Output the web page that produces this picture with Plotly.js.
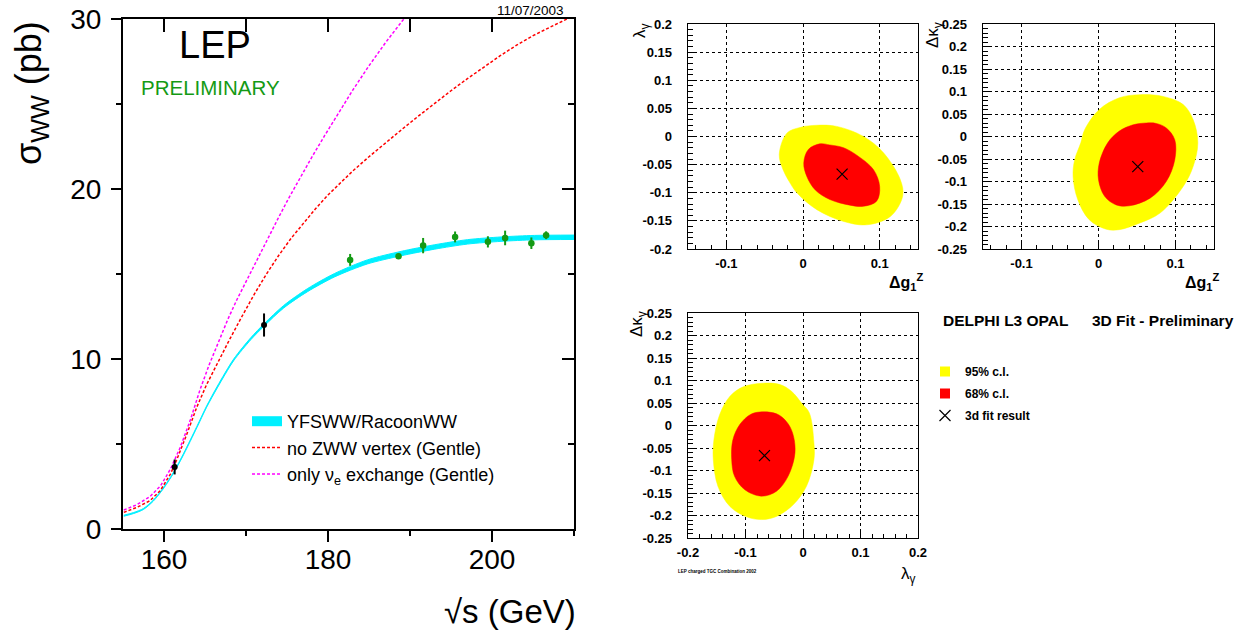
<!DOCTYPE html>
<html><head><meta charset="utf-8">
<script src="https://cdn.plot.ly/plotly-3.0.1.min.js"></script>
<style>html,body{margin:0;padding:0;background:#fff;}#chart{width:1248px;height:634px;}</style>
</head><body><div id="chart"></div>
<script>
// ---------------- data: LEP W-pair cross section ----------------
const energyYfs = [155.1,156.3,157.5,158.7,160.0,161.2,162.4,164.0,165.2,166.5,168.5,170.6,172.2,174.6,177.5,180.8,184.8,188.9,193.0,197.0,201.1,205.2,210.0];
const sigmaYfsLow  = [0.75,0.91,1.15,1.64,2.42,3.31,4.38,5.95,7.16,8.30,9.90,11.14,11.93,13.00,13.96,14.83,15.59,16.07,16.46,16.76,16.92,17.01,17.03];
const sigmaYfsHigh = [0.81,0.97,1.21,1.70,2.48,3.37,4.46,6.03,7.24,8.40,10.00,11.26,12.07,13.15,14.14,15.03,15.83,16.33,16.72,17.02,17.18,17.27,17.29];

const energyNoZww = [155.1,156.7,158.3,159.55,160.8,161.6,162.8,164.0,165.2,166.5,168.0,169.5,171.0,172.5,174.0,175.5,177.0,178.5,180.0,181.5,183.0,185.0,187.0,189.0,191.0,193.0,195.0,197.0,199.0,201.0,203.0,205.0,207.0,209.0,210.0];
const sigmaNoZww  = [0.98,1.27,1.67,2.26,3.24,4.13,5.6,7.17,8.5,9.75,11.15,12.5,13.8,15.0,16.1,17.1,18.0,18.85,19.65,20.38,21.05,21.9,22.72,23.5,24.28,25.04,25.78,26.49,27.18,27.84,28.46,29.02,29.5,29.95,30.2];

const energyNue = [155.1,156.7,158.3,159.6,160.8,162.0,163.2,164.4,165.5,166.7,167.8,168.9,170.3,171.5,172.8,174.0,175.2,176.4,178.0,179.6,181.0,183.0,185.0,187.0,189.0,191.0];
const sigmaNue  = [1.12,1.43,1.91,2.55,3.54,4.82,6.39,8.2,9.65,11.1,12.35,13.5,14.85,16.0,17.22,18.35,19.45,20.5,21.85,23.15,24.25,25.8,27.25,28.6,29.85,31.0];

const energyEarly = [161.3, 172.2];
const sigmaEarly  = [3.65, 12.0];
const errEarly    = [0.44, 0.68];

const energyLep2 = [182.7, 188.6, 191.6, 195.5, 199.5, 201.6, 204.8, 206.6];
const sigmaLep2  = [15.83, 16.05, 16.67, 17.18, 16.89, 17.12, 16.81, 17.28];
const errLep2    = [0.35, 0.17, 0.45, 0.32, 0.33, 0.43, 0.34, 0.23];

const sqrtsTicks = [160, 180, 200];
const sigmaTicks = [0, 10, 20, 30];

// ---------------- data: TGC 3D fit contours ----------------
const fitG1z = [0.051];
const fitLambda = [-0.067];
const fitKappa = [-0.067];

// panel 1: dg1Z (x) vs lambda_gamma (y)
const g1zLam95X = [0.018,-0.004,-0.021,-0.031,-0.026,-0.018,-0.008,0.018,0.053,0.083,0.114,0.130,0.127,0.105,0.079,0.044,0.018];
const g1zLam95Y = [0.020,0.016,0.006,-0.032,-0.059,-0.080,-0.100,-0.130,-0.151,-0.157,-0.142,-0.106,-0.077,-0.029,0.000,0.018,0.020];
const g1zLam68X = [0.022,0.035,0.053,0.072,0.092,0.100,0.096,0.079,0.061,0.035,0.016,0.005,0.001,0.007,0.022];
const g1zLam68Y = [-0.013,-0.015,-0.020,-0.035,-0.059,-0.089,-0.115,-0.124,-0.122,-0.112,-0.095,-0.071,-0.047,-0.023,-0.013];

// panel 2: dg1Z (x) vs dkappa_gamma (y)
const g1zKap95X = [0.054,0.027,0.001,-0.018,-0.023,-0.031,-0.033,-0.027,-0.012,0.010,0.027,0.054,0.080,0.110,0.123,0.129,0.123,0.110,0.084,0.054];
const g1zKap95Y = [0.093,0.086,0.060,0.015,-0.014,-0.052,-0.089,-0.140,-0.185,-0.206,-0.207,-0.192,-0.170,-0.111,-0.066,-0.014,0.037,0.071,0.089,0.093];
const g1zKap68X = [0.062,0.045,0.027,0.012,0.001,0.000,0.008,0.023,0.040,0.067,0.088,0.099,0.099,0.088,0.075,0.062];
const g1zKap68Y = [0.030,0.026,0.012,-0.014,-0.059,-0.096,-0.133,-0.152,-0.154,-0.137,-0.100,-0.052,-0.007,0.019,0.029,0.030];

// panel 3: lambda_gamma (x) vs dkappa_gamma (y)
const lamKap95X = [-0.069,-0.104,-0.127,-0.145,-0.155,-0.156,-0.148,-0.127,-0.098,-0.072,-0.046,-0.017,0.006,0.019,0.019,0.011,-0.002,-0.020,-0.040,-0.069];
const lamKap95Y = [0.094,0.086,0.065,0.024,-0.032,-0.076,-0.135,-0.180,-0.203,-0.209,-0.202,-0.176,-0.135,-0.076,-0.039,0.028,0.049,0.076,0.091,0.094];
const lamKap68X = [-0.075,-0.092,-0.110,-0.122,-0.124,-0.119,-0.101,-0.072,-0.046,-0.026,-0.014,-0.018,-0.029,-0.046,-0.075];
const lamKap68Y = [0.030,0.024,0.002,-0.032,-0.076,-0.113,-0.143,-0.157,-0.146,-0.113,-0.061,-0.017,0.009,0.026,0.030];

const g1zTicks = [-0.1, 0, 0.1];
const g1zTickText = ['-0.1', '0', '0.1'];
const lamTicksY = [-0.2,-0.15,-0.1,-0.05,0,0.05,0.1,0.15,0.2];
const lamTickTextY = ['-0.2','-0.15','-0.1','-0.05','0','0.05','0.1','0.15','0.2'];
const kapTicks = [-0.25,-0.2,-0.15,-0.1,-0.05,0,0.05,0.1,0.15,0.2,0.25];
const kapTickText = ['-0.25','-0.2','-0.15','-0.1','-0.05','0','0.05','0.1','0.15','0.2','0.25'];
const lamTicksX = [-0.2,-0.1,0,0.1,0.2];
const lamTickTextX = ['-0.2','-0.1','0','0.1','0.2'];

// ---------------- styling helpers ----------------
const FONT = 'Liberation Sans, Arial, Helvetica, sans-serif';
const W = 1248, H = 634;
const px = v => v / W;
const py = v => (H - v) / H;
const CYAN = '#00f0ff', RED = '#ff0000', MAG = '#ff00ff', GREEN = '#149a14', YEL = '#ffff00';

const traces = [];
// legend proxy for the cyan band
traces.push({x:[null], y:[null], mode:'lines', line:{color:CYAN, width:14}, name:'YFSWW/RacoonWW', legend:'legend', hoverinfo:'skip'});
traces.push({x:energyYfs, y:sigmaYfsLow, mode:'lines', line:{color:CYAN, width:1, shape:'spline', smoothing:0.8}, showlegend:false, hoverinfo:'skip'});
traces.push({x:energyYfs, y:sigmaYfsHigh, mode:'lines', line:{color:CYAN, width:1, shape:'spline', smoothing:0.8}, fill:'tonexty', fillcolor:CYAN, showlegend:false, hoverinfo:'skip'});
traces.push({x:energyNoZww, y:sigmaNoZww, mode:'lines', line:{color:RED, width:1.5, dash:'3px,2px'}, name:'no ZWW vertex (Gentle)', legend:'legend'});
traces.push({x:energyNue, y:sigmaNue, mode:'lines', line:{color:MAG, width:1.5, dash:'3px,2px'}, name:'only ν<sub>e</sub> exchange (Gentle)', legend:'legend'});
traces.push({x:energyEarly, y:sigmaEarly, mode:'markers', marker:{color:'black', size:6},
  error_y:{type:'data', array:errEarly, color:'black', thickness:2, width:0}, showlegend:false});
traces.push({x:energyLep2, y:sigmaLep2, mode:'markers', marker:{color:GREEN, size:6.5},
  error_y:{type:'data', array:errLep2, color:GREEN, thickness:2, width:0}, showlegend:false});
// carrier for the mirrored tick axes of the left frame
traces.push({x:[], y:[], xaxis:'x5', yaxis:'y5', mode:'markers', showlegend:false, hoverinfo:'skip'});

// contour panels
function contour(ax, ay, x95, y95, x68, y68, fx, fy, legendFit) {
  traces.push({x:x95, y:y95, xaxis:ax, yaxis:ay, mode:'lines', fill:'toself', fillcolor:YEL,
    line:{color:YEL, width:0.5, shape:'spline', smoothing:1}, showlegend:false, hoverinfo:'skip'});
  traces.push({x:x68, y:y68, xaxis:ax, yaxis:ay, mode:'lines', fill:'toself', fillcolor:RED,
    line:{color:RED, width:0.5, shape:'spline', smoothing:1}, showlegend:false, hoverinfo:'skip'});
  traces.push({x:fx, y:fy, xaxis:ax, yaxis:ay, mode:'markers',
    marker:{symbol:'x-thin-open', size:11, color:'black', line:{color:'black', width:1.2}},
    name:'<b>3d fit result</b>', legend:'legend2', legendgroup:'g3', showlegend:legendFit});
}
traces.push({x:[null], y:[null], xaxis:'x2', yaxis:'y2', mode:'markers', marker:{symbol:'square', size:10, color:YEL},
  name:'<b>95% c.l.</b>', legend:'legend2', legendgroup:'g1', hoverinfo:'skip'});
traces.push({x:[null], y:[null], xaxis:'x2', yaxis:'y2', mode:'markers', marker:{symbol:'square', size:10, color:RED},
  name:'<b>68% c.l.</b>', legend:'legend2', legendgroup:'g2', hoverinfo:'skip'});
contour('x2','y2', g1zLam95X, g1zLam95Y, g1zLam68X, g1zLam68Y, fitG1z, fitLambda, true);
contour('x3','y3', g1zKap95X, g1zKap95Y, g1zKap68X, g1zKap68Y, fitG1z, fitKappa, false);
contour('x4','y4', lamKap95X, lamKap95Y, lamKap68X, lamKap68Y, fitLambda, fitKappa, false);

// ---------------- layout ----------------
const leftX = [px(123), px(574)];
const leftY = [py(529), py(19)];
const p1X = [px(688), px(918)], p2X = [px(983), px(1214)];
const topY = [py(249), py(24)], botY = [py(538), py(313)];

function panelAxis(domain, anchor, range, tickvals, ticktext, minorDtick, isY) {
  return {
    domain, anchor, range, tickmode:'array', tickvals, ticktext,
    showline:true, linecolor:'black', linewidth:1.3, mirror:true,
    ticks:'inside', ticklen:9, tickwidth:1, tickcolor:'black',
    minor:{ticks:'inside', ticklen:4.5, tickwidth:1, tickcolor:'black', tickmode:'linear', tick0:0, dtick:minorDtick, showgrid:false},
    showgrid:true, gridcolor:'black', gridwidth:1, griddash:'dot', zeroline:false,
    ticklabelstandoff: isY ? 12 : 2,
    tickfont:{family:FONT, size:13, color:'black', weight:700},
  };
}

const layout = {
  width:W, height:H, margin:{l:0, r:0, t:0, b:0},
  paper_bgcolor:'white', plot_bgcolor:'rgba(0,0,0,0)',
  font:{family:FONT, color:'black'},
  showlegend:true,
  xaxis:{domain:leftX, anchor:'y', range:[155,210], tickmode:'array', tickvals:sqrtsTicks,
    ticks:'outside', ticklen:11, tickwidth:2, tickcolor:'black',
    minor:{ticks:'outside', ticklen:5, tickwidth:2, tickcolor:'black', tickmode:'linear', tick0:160, dtick:10},
    showline:true, linecolor:'black', linewidth:2, mirror:true, showgrid:false, zeroline:false,
    ticklabelstandoff:-7, tickfont:{family:FONT, size:28, color:'black'}},
  yaxis:{domain:leftY, anchor:'x', range:[0,30], tickmode:'array', tickvals:sigmaTicks,
    ticks:'outside', ticklen:10, tickwidth:2, tickcolor:'black',
    minor:{ticks:'outside', ticklen:5, tickwidth:2, tickcolor:'black', tickmode:'linear', tick0:0, dtick:5},
    showline:true, linecolor:'black', linewidth:2, mirror:true, showgrid:false, zeroline:false,
    ticklabelstandoff:4, tickfont:{family:FONT, size:28, color:'black'}},
  xaxis5:{overlaying:'x', side:'top', anchor:'y5', range:[155,210], tickmode:'linear', tick0:160, dtick:10,
    ticks:'inside', ticklen:13, tickwidth:2, tickcolor:'black', showticklabels:false, showline:false, showgrid:false, zeroline:false},
  yaxis5:{overlaying:'y', side:'right', anchor:'x5', range:[0,30], tickmode:'linear', tick0:0, dtick:10,
    ticks:'inside', ticklen:12, tickwidth:2, tickcolor:'black',
    minor:{ticks:'inside', ticklen:6, tickwidth:2, tickcolor:'black', tickmode:'linear', tick0:0, dtick:5},
    showticklabels:false, showline:false, showgrid:false, zeroline:false},
  xaxis2: panelAxis(p1X, 'y2', [-0.15,0.15], g1zTicks, g1zTickText, 0.02, false),
  yaxis2: panelAxis(topY, 'x2', [-0.2,0.2], lamTicksY, lamTickTextY, 0.01, true),
  xaxis3: panelAxis(p2X, 'y3', [-0.15,0.15], g1zTicks, g1zTickText, 0.02, false),
  yaxis3: panelAxis(topY, 'x3', [-0.25,0.25], kapTicks, kapTickText, 0.01, true),
  xaxis4: panelAxis(p1X, 'y4', [-0.2,0.2], lamTicksX, lamTickTextX, 0.02, false),
  yaxis4: panelAxis(botY, 'x4', [-0.25,0.25], kapTicks, kapTickText, 0.01, true),
  legend:{x:px(247), y:py(403), xanchor:'left', yanchor:'top', bgcolor:'rgba(0,0,0,0)', borderwidth:0,
    itemwidth:30, traceorder:'normal', font:{family:FONT, size:18, color:'black'}},
  legend2:{x:px(925), y:py(357), xanchor:'left', yanchor:'top', bgcolor:'rgba(0,0,0,0)', borderwidth:0,
    itemwidth:30, traceorder:'grouped', tracegroupgap:3, font:{family:FONT, size:12, color:'black'}},
  annotations:[
    {text:'σ<sub>WW</sub> (pb)', xref:'paper', yref:'paper', x:px(31), y:py(93), xanchor:'center', yanchor:'middle', textangle:-90, showarrow:false, font:{size:36}},
    {text:'√s (GeV)', xref:'paper', yref:'paper', x:px(578), y:py(611), xanchor:'right', yanchor:'middle', showarrow:false, font:{size:33}},
    {text:'11/07/2003', xref:'paper', yref:'paper', x:px(566), y:py(10), xanchor:'right', yanchor:'middle', showarrow:false, font:{size:13.5}},
    {text:'LEP', xref:'paper', yref:'paper', x:px(215), y:py(45), xanchor:'center', yanchor:'middle', showarrow:false, font:{size:38}},
    {text:'PRELIMINARY', xref:'paper', yref:'paper', x:px(210), y:py(87), xanchor:'center', yanchor:'middle', showarrow:false, font:{size:20.5, color:GREEN}},
    {text:'λ<sub>γ</sub>', xref:'paper', yref:'paper', x:px(641), y:py(30), xanchor:'center', yanchor:'middle', textangle:-90, showarrow:false, font:{size:17}},
    {text:'<b>Δg<sub>1</sub><sup>Z</sup></b>', xref:'paper', yref:'paper', x:px(926), y:py(282), xanchor:'right', yanchor:'middle', showarrow:false, font:{size:16}},
    {text:'Δκ<sub>γ</sub>', xref:'paper', yref:'paper', x:px(934), y:py(35), xanchor:'center', yanchor:'middle', textangle:-90, showarrow:false, font:{size:17}},
    {text:'<b>Δg<sub>1</sub><sup>Z</sup></b>', xref:'paper', yref:'paper', x:px(1222), y:py(282), xanchor:'right', yanchor:'middle', showarrow:false, font:{size:16}},
    {text:'Δκ<sub>γ</sub>', xref:'paper', yref:'paper', x:px(638), y:py(324), xanchor:'center', yanchor:'middle', textangle:-90, showarrow:false, font:{size:17}},
    {text:'λ<sub>γ</sub>', xref:'paper', yref:'paper', x:px(918), y:py(575), xanchor:'right', yanchor:'middle', showarrow:false, font:{size:17}},
    {text:'<b>LEP charged TGC Combination 2002</b>', xref:'paper', yref:'paper', x:px(676), y:py(571), xanchor:'left', yanchor:'middle', showarrow:false, font:{size:4.5}},
    {text:'<b>DELPHI L3 OPAL</b>', xref:'paper', yref:'paper', x:px(941), y:py(320), xanchor:'left', yanchor:'middle', showarrow:false, font:{size:15.5}},
    {text:'<b>3D Fit - Preliminary</b>', xref:'paper', yref:'paper', x:px(1090), y:py(320), xanchor:'left', yanchor:'middle', showarrow:false, font:{size:15.5}},
  ],
};

Plotly.newPlot('chart', traces, layout, {displayModeBar:false, staticPlot:true});
</script></body></html>
